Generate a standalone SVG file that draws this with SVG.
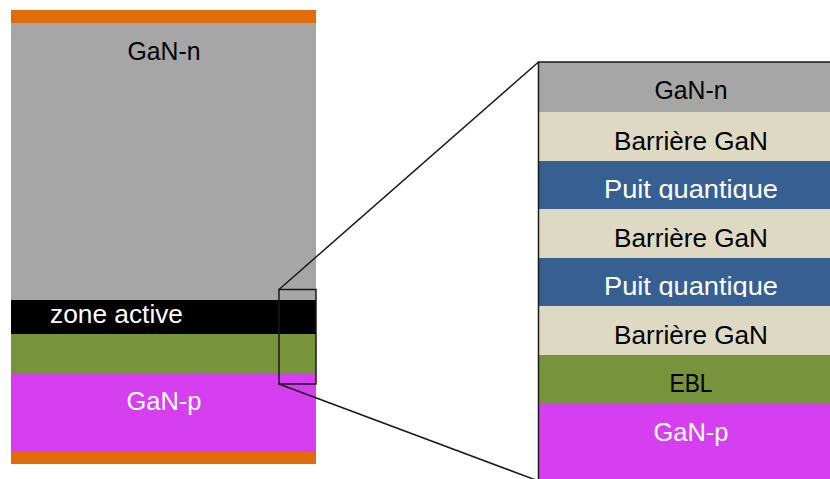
<svg xmlns="http://www.w3.org/2000/svg" width="830" height="479" viewBox="0 0 830 479">
  <style>
    .t { font-family: "Liberation Sans", Arial, sans-serif; font-size: 25px; text-anchor: middle; }
    .dk { fill: #000000; }
    .wt { fill: #ffffff; }
    .ln { fill: none; stroke: #1a1a1a; stroke-width: 1.5; }
  </style>
  <defs>
    <clipPath id="c1"><rect x="538" y="161" width="292" height="39"/></clipPath>
    <clipPath id="c2"><rect x="538" y="258" width="292" height="39"/></clipPath>
  </defs>
  <rect width="830" height="479" fill="#ffffff"/>

  <g id="left-stack">
    <g id="contact-top"><rect x="11" y="10" width="305" height="13" fill="#E36C0A"/></g>
    <g id="gan-n"><rect x="11" y="23" width="305" height="277" fill="#A6A6A6"/>
      <text class="t dk" x="164" y="60" textLength="73" lengthAdjust="spacingAndGlyphs">GaN-n</text></g>
    <g id="zone-active"><rect x="11" y="300" width="305" height="34" fill="#000000"/>
      <text class="t wt" x="116.5" y="323" textLength="133" lengthAdjust="spacingAndGlyphs">zone active</text></g>
    <g id="ebl-left"><rect x="11" y="334" width="305" height="39" fill="#77933C"/></g>
    <g id="gan-p"><rect x="11" y="373" width="305" height="79" fill="#D63FF0"/>
      <text class="t wt" x="164" y="410" textLength="75" lengthAdjust="spacingAndGlyphs">GaN-p</text></g>
    <g id="contact-bottom"><rect x="11" y="452" width="305" height="12" fill="#E36C0A"/></g>
  </g>

  <g id="right-stack">
    <g id="r-gan-n"><rect x="538" y="62" width="292" height="50" fill="#A6A6A6"/>
      <text class="t dk" x="691" y="98.5" textLength="73" lengthAdjust="spacingAndGlyphs">GaN-n</text></g>
    <g id="r-barrier1"><rect x="538" y="112" width="292" height="49" fill="#DDD9C3"/>
      <text class="t dk" x="691" y="150" textLength="154" lengthAdjust="spacingAndGlyphs">Barrière GaN</text></g>
    <g id="r-qw1"><rect x="538" y="161" width="292" height="48" fill="#366092"/>
      <text class="t wt" x="691" y="198" textLength="174" lengthAdjust="spacingAndGlyphs" clip-path="url(#c1)">Puit quantique</text></g>
    <g id="r-barrier2"><rect x="538" y="209" width="292" height="49" fill="#DDD9C3"/>
      <text class="t dk" x="691" y="246.5" textLength="154" lengthAdjust="spacingAndGlyphs">Barrière GaN</text></g>
    <g id="r-qw2"><rect x="538" y="258" width="292" height="48" fill="#366092"/>
      <text class="t wt" x="691" y="294.5" textLength="174" lengthAdjust="spacingAndGlyphs" clip-path="url(#c2)">Puit quantique</text></g>
    <g id="r-barrier3"><rect x="538" y="306" width="292" height="49" fill="#DDD9C3"/>
      <text class="t dk" x="691" y="343.5" textLength="154" lengthAdjust="spacingAndGlyphs">Barrière GaN</text></g>
    <g id="r-ebl"><rect x="538" y="355" width="292" height="48" fill="#77933C"/>
      <text class="t dk" x="691" y="391.5" textLength="43" lengthAdjust="spacingAndGlyphs">EBL</text></g>
    <g id="r-gan-p"><rect x="538" y="403" width="292" height="76" fill="#D63FF0"/>
      <text class="t wt" x="691" y="440.5" textLength="75" lengthAdjust="spacingAndGlyphs">GaN-p</text></g>
  </g>

  <g id="connectors">
    <rect class="ln" x="279" y="289.5" width="37" height="94.5"/>
    <line class="ln" x1="279" y1="289.5" x2="538.5" y2="62"/>
    <line class="ln" x1="279" y1="384" x2="538.5" y2="481"/>
    <polyline class="ln" points="538.5,480 538.5,62 830,62"/>
  </g>
</svg>
